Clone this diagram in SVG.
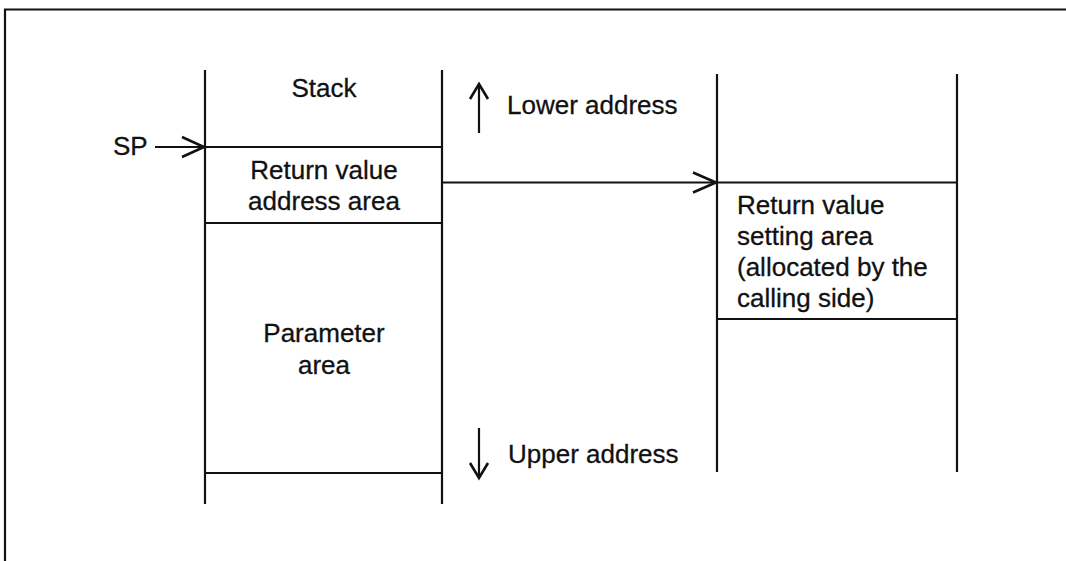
<svg xmlns="http://www.w3.org/2000/svg" width="1066" height="561" viewBox="0 0 1066 561">
<style>
.ln{stroke:#111;stroke-width:2.2;fill:none;stroke-linecap:butt}
.hd{stroke:#111;stroke-width:2.6;fill:none;stroke-linejoin:miter}
text{font-family:"Liberation Sans",Arial,Helvetica,sans-serif;font-size:26px;fill:#111;stroke:#111;stroke-width:0.3}
.c{text-anchor:middle}
</style>
<rect width="1066" height="561" fill="#fff"/>
<g id="frame">
<path class="ln" d="M5,561 V9.5 H1066"/>
</g>
<g id="stack">
<path class="ln" d="M205,70 V504 M442,70 V504 M205,147 H442 M205,223 H442 M205,473 H442"/>
<text class="c" x="324" y="97">Stack</text>
</g>
<g id="return-value-address-area">
<text class="c" x="324" y="179">Return value</text>
<text class="c" x="324" y="210">address area</text>
</g>
<g id="parameter-area">
<text class="c" x="324" y="342">Parameter</text>
<text class="c" x="324" y="374">area</text>
</g>
<g id="sp">
<text x="113" y="155">SP</text>
</g>
<g id="lower-address">
<text x="507" y="114">Lower address</text>
</g>
<g id="upper-address">
<text x="508" y="463">Upper address</text>
</g>
<g id="return-stack">
<path class="ln" d="M717,74 V472 M957,74 V472 M717,182.5 H957 M717,319 H957"/>
</g>
<g id="return-value-setting-area">
<text x="737" y="214">Return value</text>
<text x="737" y="245">setting area</text>
<text x="737" y="276">(allocated by the</text>
<text x="737" y="307">calling side)</text>
</g>
<g id="connectors">
<path class="ln" d="M155,147 H204"/>
<path class="hd" d="M182,137 L204,147 L182,157"/>
<path class="ln" d="M442,182.5 H716"/>
<path class="hd" d="M693,172.5 L716,182.5 L693,192.5"/>
<path class="ln" d="M479,133 V85"/>
<path class="hd" d="M470,99 L479,84 L488,99"/>
<path class="ln" d="M479,428 V477"/>
<path class="hd" d="M470,463 L479,478 L488,463"/>
</g>
</svg>
